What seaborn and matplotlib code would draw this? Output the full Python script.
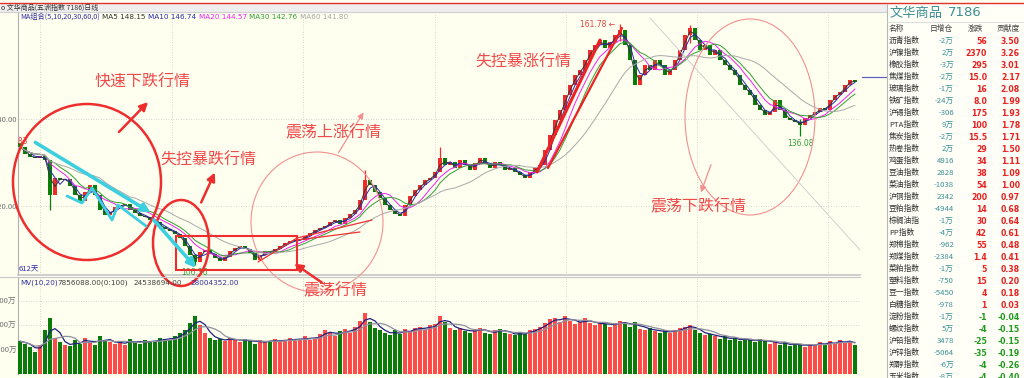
import numpy as np
import pandas as pd
import matplotlib
matplotlib.use("Agg")
import matplotlib.pyplot as plt
from matplotlib.patches import Ellipse, Rectangle
import seaborn as sns

W, H = 1024, 378

# ---- price data (one candle ~ 3.6 trading days, 612 days in view) ----
closes = [
    133.6, 132.0, 131.3, 131.0, 131.5, 130.6, 122.5, 126.4, 126.0, 126.2,
    124.6, 122.5, 121.1, 123.2, 124.8, 122.5, 119.1, 117.9, 118.6, 119.8,
    120.2, 120.5, 119.1, 118.4, 117.7, 117.5, 116.8, 116.3, 115.2, 114.7,
    114.3, 113.6, 112.6, 110.8, 108.7, 107.1, 109.4, 109.9, 109.0, 108.0,
    107.4, 108.3, 109.7, 110.3, 110.8, 110.1, 109.2, 107.6, 108.7, 109.7,
    109.4, 110.1, 110.8, 111.5, 112.0, 112.2, 112.2, 113.1, 113.8, 114.5,
    114.9, 115.4, 116.3, 116.8, 115.9, 117.2, 118.2, 119.1, 121.4, 126.0,
    124.8, 123.2, 121.8, 120.2, 119.1, 118.2, 117.7, 120.2, 122.3, 123.7,
    124.8, 126.0, 126.4, 127.8, 131.0, 129.4, 130.1, 128.7, 130.6, 129.4,
    128.3, 129.9, 131.0, 129.7, 128.7, 130.1, 129.4, 128.3, 128.7, 127.8,
    127.1, 126.4, 127.8, 128.7, 129.4, 132.9, 136.3, 139.8, 142.1, 145.5,
    147.8, 150.1, 151.3, 153.6, 155.9, 157.0, 158.2, 156.3, 157.7, 159.3,
    160.5, 157.0, 153.6, 147.8, 150.1, 152.4, 151.3, 153.6, 152.4, 150.1,
    151.3, 153.6, 155.9, 159.3, 160.9, 158.2, 155.9, 157.0, 154.7, 155.9,
    153.6, 152.4, 151.3, 150.1, 147.8, 146.7, 145.5, 143.2, 142.1, 140.9,
    141.6, 144.4, 142.1, 140.2, 139.8, 139.3, 138.6, 140.2, 140.9, 141.6,
    142.5, 142.1, 144.4, 145.5, 146.2, 147.8, 149.0, 148.5,
]
first_open = 134.5

# long shadows that stand out in the picture
spike_idx = [6, 35, 69, 84, 120, 134, 156]
spike_hi = [128.0, 109.0, 128.3, 133.6, 161.78, 161.6, 140.0]
spike_lo = [119.1, 106.36, 124.0, 129.0, 158.0, 157.5, 136.08]

# volume, unit 万
volumes = [
    1350, 1250, 1100, 900, 1200, 1800, 2300, 1500, 1300, 1200,
    1150, 1400, 1250, 1500, 1300, 1200, 1550, 1400, 1300, 1250,
    1350, 1200, 1450, 1300, 1250, 1400, 1350, 1300, 1500, 1450,
    1400, 1550, 1700, 1800, 2100, 2400, 2000, 1700, 1500, 1400,
    1450, 1350, 1500, 1400, 1300, 1450, 1350, 1250, 1400, 1300,
    1350, 1450, 1300, 1400, 1500, 1350, 1450, 1550, 1400, 1500,
    1650, 1800, 1700, 1550, 1750, 1850, 1700, 1950, 2200, 2500,
    2150, 1900, 1800, 1700, 1600, 1800, 1650, 1850, 1750, 1900,
    1950, 1800, 2000, 2050, 2400, 2150, 1900, 1800, 1900, 1750,
    1700, 1850, 1900, 1700, 1650, 1800, 1850, 1700, 1650, 1600,
    1700, 1650, 1800, 1850, 1950, 2100, 2250, 2300, 2150, 2400,
    2200, 2050, 2150, 2300, 2100, 2000, 2150, 2050, 1950, 2100,
    2200, 2050, 1950, 2150, 1850, 1800, 1900, 1750, 1700, 1800,
    1700, 1800, 1900, 1950, 2000, 1800, 1700, 1600, 1650, 1550,
    1450, 1550, 1400, 1500, 1350, 1450, 1400, 1300, 1450, 1350,
    1250, 1350, 1200, 1300, 1150, 1250, 1200, 1100, 1250, 1200,
    1300, 1200, 1350, 1250, 1400, 1300, 1350, 1200,
]

ma_names = ["MA5", "MA10", "MA20", "MA30", "MA60"]
ma_windows = [2, 3, 6, 8, 17]          # in candles
ma_values = ["148.15", "146.74", "144.57", "142.76", "141.80"]
ma_colors = ["#333333", "#2828B0", "#F020F0", "#30A030", "#A8A8A8"]

# right-hand quote table
tbl_names = ["沥青指数", "沪镍指数", "橡胶指数", "焦煤指数", "玻璃指数", "铁矿指数",
             "沪锡指数", "PTA指数", "焦炭指数", "热卷指数", "鸡蛋指数", "豆油指数",
             "菜油指数", "沪铜指数", "豆粕指数", "棕榈油指", "PP指数", "郑棉指数",
             "郑煤指数", "菜粕指数", "塑料指数", "豆一指数", "白糖指数", "淀粉指数",
             "螺纹指数", "沪铅指数", "沪锌指数", "郑醇指数", "玉米指数"]
tbl_oi = ["-2万", "2万", "-3万", "-2万", "-1万", "-24万", "-306", "9万", "-2万", "2万",
          "4916", "2828", "-1038", "2342", "-4944", "-1万", "-4万", "-962", "-2384",
          "-1万", "-750", "-5450", "-978", "-1万", "5万", "3478", "-5064", "-6万", "-8万"]
tbl_chg = ["56", "2370", "295", "15.0", "16", "8.0", "175", "100", "15.5", "29",
           "34", "38", "54", "200", "14", "30", "42", "55", "1.4", "5", "15", "4",
           "1", "-1", "-4", "-25", "-35", "-4", "-4"]
tbl_contrib = [3.50, 3.26, 3.01, 2.17, 2.08, 1.99, 1.93, 1.78, 1.71, 1.50, 1.11,
               1.09, 1.00, 0.97, 0.68, 0.64, 0.61, 0.48, 0.41, 0.38, 0.20, 0.18,
               0.03, -0.04, -0.15, -0.15, -0.19, -0.26, -0.40]

# ---- frame ----
df = pd.DataFrame({"close": closes, "vol": volumes})
df["open"] = df["close"].shift(1).fillna(first_open)
df["i"] = np.arange(len(df))
up = df["close"] >= df["open"]

sns.set_theme(style="white")
plt.rcParams["font.family"] = ["Noto Sans CJK SC", "DejaVu Sans"]
plt.rcParams["axes.unicode_minus"] = False

BG = "#FFFFF0"
RED = "#F22A2A"
GREEN = "#088008"
ANN = "#F04A4A"

fig = plt.figure(figsize=(W / 100, H / 100), dpi=100, facecolor=BG)


def fig_rect(x0, y0, x1, y1):
    return [x0 / W, 1 - y1 / H, (x1 - x0) / W, (y1 - y0) / H]


# price axes: pixel y = 119 at 140, 4.35 px per point
ax_p = fig.add_axes(fig_rect(18, 12, 860, 275), facecolor=BG)
ax_p.set_xlim((18 - 20) / 5, (860 - 20) / 5)
ax_p.set_ylim(140 - (275 - 119) / 4.35, 140 + (119 - 12) / 4.35)

ax_v = fig.add_axes(fig_rect(18, 278, 860, 374), facecolor=BG)
ax_v.set_xlim(ax_p.get_xlim())
ax_v.set_ylim(0, (374 - 278) / 24.3 * 1000)

grid_x = [4, 30.4, 56.6, 83, 109.2, 135.4, 161.6]
for ax in (ax_p, ax_v):
    for s in ("top", "right", "bottom"):
        ax.spines[s].set_visible(False)
    ax.spines["left"].set_color("#B0B0B0")
    ax.spines["left"].set_linewidth(0.8)
    ax.set_xticks(grid_x)
    ax.set_xticklabels([])
    ax.tick_params(axis="both", length=0, pad=1, labelsize=5.5, labelcolor="#707070")
    ax.grid(True, axis="both", color="#C8C8C8", linestyle=(0, (1, 2)), linewidth=0.6)
ax_p.spines["bottom"].set_visible(True)
ax_p.spines["bottom"].set_color("#C8C8C8")

ax_p.set_yticks([120, 140])
ax_p.set_yticklabels(["120.00", "140.00"])
ax_v.set_yticks([1000, 2000, 3000])
ax_v.set_yticklabels(["1000万", "2000万", "3000万"])

# candles
body_lo = df[["open", "close"]].min(axis=1)
body_h = (df["close"] - df["open"]).abs().clip(lower=0.25)
ax_p.bar(df["i"], body_h, bottom=body_lo, width=0.7,
         color=np.where(up, RED, GREEN), linewidth=0, zorder=3)
ax_p.vlines(spike_idx, spike_lo, spike_hi,
            colors=[RED if up[k] else GREEN for k in spike_idx], linewidth=0.9, zorder=3)

# moving averages
for name, w, c in zip(ma_names, ma_windows, ma_colors):
    ma = df["close"].rolling(w, min_periods=1).mean()
    sns.lineplot(x=df["i"], y=ma, ax=ax_p, color=c, linewidth=0.7, zorder=4, legend=False)
ax_p.set_xlabel("")
ax_p.set_ylabel("")

# volume bars + MV lines
ax_v.bar(df["i"], df["vol"], width=0.7,
         color=np.where(up, "#FF4A4A", "#0A7A0A"), linewidth=0, zorder=3)
sns.lineplot(x=df["i"], y=df["vol"].rolling(3, min_periods=1).mean(), ax=ax_v,
             color="#202080", linewidth=0.9, zorder=4)
sns.lineplot(x=df["i"], y=df["vol"].rolling(6, min_periods=1).mean(), ax=ax_v,
             color="#9090A0", linewidth=0.9, zorder=4)
ax_v.set_xlabel("")
ax_v.set_ylabel("")

# price tags
ax_p.text(1.6, closes[0] + 1.2, "134.83", color="#E04040", fontsize=5.5,
          ha="right", va="center", clip_on=True, family="DejaVu Sans")
ax_p.text(119, 161.78, "161.78 ←", color="#E04040", fontsize=5.5,
          ha="right", va="center", family="DejaVu Sans")
ax_p.text(35, 106.36 - 0.6, "106.36", color="#30A030", fontsize=5.5,
          ha="center", va="top", family="DejaVu Sans")
ax_p.text(156, 136.08 - 0.6, "136.08", color="#30A030", fontsize=5.5,
          ha="center", va="top", family="DejaVu Sans")

# ---- overlay in pixel coordinates ----
ov = fig.add_axes([0, 0, 1, 1], zorder=10)
ov.set_xlim(0, W)
ov.set_ylim(H, 0)
ov.axis("off")
ov.patch.set_alpha(0)

# window title strip
ov.add_patch(Rectangle((0, 3), W, 9, fc="#EEEEEE", ec="none"))
ov.plot([0, W], [3, 3], color="#E03030", lw=1.0)
ov.plot([0, 887], [12, 12], color="#D0D0D0", lw=0.8)
ov.text(1, 7.5, "o 文华商品(五洲指数 7186)日线", fontsize=5, color="#303030", va="center")

# MA legend
ov.text(20, 17, "MA组合(5,10,20,30,60,0)", fontsize=5.2, color="#3030A0", va="center")
leg_x = [102, 148, 199, 249, 300]
for x, n, v, c in zip(leg_x, ma_names, ma_values, ma_colors):
    ov.text(x, 17, f"{n} {v}", fontsize=5.2, color=c, va="center", family="DejaVu Sans")
ov.text(19, 270, "612天", fontsize=5.5, color="#3030B0", va="center")

# volume legend
ov.plot([0, 860], [276.5, 276.5], color="#C8C8C8", lw=0.8)
ov.text(20, 283, "MV(10,20)", fontsize=5.2, color="#3030A0", va="center", family="DejaVu Sans")
ov.text(57, 283, "7856088.00(0:100)", fontsize=5.2, color="#404040", va="center", family="DejaVu Sans")
ov.text(133, 283, "24538694.00", fontsize=5.2, color="#404040", va="center", family="DejaVu Sans")
ov.text(190, 283, "28004352.00", fontsize=5.2, color="#3030A0", va="center", family="DejaVu Sans")

# trend lines drawn by the analyst
ov.plot([650, 860], [18, 250], color="#D0D0D0", lw=0.7)
ov.plot([537, 600], [172, 40], color="#EE2222", lw=2.2)
ov.plot([548, 622], [168, 28], color="#EE2222", lw=1.6)
ov.plot([258, 297], [262, 238], color="#EE3030", lw=0.9)
ov.plot([297, 372], [238, 220], color="#EE3030", lw=0.9)
ov.plot([297, 360], [240, 232], color="#EE3030", lw=0.9)

# cyan arrows in the first selloff
cyan = "#3CCFE0"
ov.annotate("", xy=(153, 214), xytext=(33, 141),
            arrowprops=dict(arrowstyle="-|>", color=cyan, lw=2.6, mutation_scale=12))
ov.plot([67, 82, 92, 112, 118, 146], [196, 203, 188, 220, 205, 226], color=cyan, lw=2.0)
ov.annotate("", xy=(198, 270), xytext=(152, 218),
            arrowprops=dict(arrowstyle="-|>", color=cyan, lw=2.6, mutation_scale=12))

# circles / boxes / arrows
ov.add_patch(Ellipse((87, 182), 148, 156, fill=False, ec="#EE2E2E", lw=1.8))
ov.add_patch(Ellipse((181, 243), 56, 86, fill=False, ec="#EE2E2E", lw=1.8))
ov.add_patch(Ellipse((317, 222), 132, 140, fill=False, ec="#F29090", lw=0.8))
ov.add_patch(Ellipse((750, 117), 130, 196, fill=False, ec="#F29090", lw=0.8))
ov.add_patch(Rectangle((176, 236), 121, 34, fill=False, ec="#EE2E2E", lw=1.5))

red_arrow = dict(arrowstyle="-|>", color="#EE2E2E", lw=1.8, mutation_scale=12)
ov.annotate("", xy=(150, 100), xytext=(117, 134), arrowprops=red_arrow)
ov.annotate("", xy=(216, 170), xytext=(200, 205), arrowprops=red_arrow)
ov.annotate("", xy=(292, 262), xytext=(324, 284), arrowprops=red_arrow)
ov.annotate("", xy=(365, 110), xytext=(337, 155),
            arrowprops=dict(arrowstyle="-|>", color="#F29090", lw=0.9, mutation_scale=9))
ov.annotate("", xy=(700, 195), xytext=(712, 162),
            arrowprops=dict(arrowstyle="-|>", color="#F29090", lw=0.9, mutation_scale=9))

lab = dict(color=ANN, fontsize=11.5, va="center")
ov.text(95, 82, "快速下跌行情", **lab)
ov.text(160, 160, "失控暴跌行情", **lab)
ov.text(285, 133, "震荡上涨行情", **lab)
ov.text(303, 291, "震荡行情", **lab)
ov.text(475, 62, "失控暴涨行情", **lab)
ov.text(650, 207, "震荡下跌行情", **lab)

# current price marker
ov.plot([862, 887], [77, 77], color="#6060C0", lw=0.9)

# ---- quote table ----
ov.add_patch(Rectangle((887, 4), W - 887, H - 4, fc="#FFFFF8", ec="none"))
ov.plot([887, 887], [4, H], color="#B8B8B8", lw=0.8)
ov.plot([887, W], [22, 22], color="#D8D8D8", lw=0.6)
teal = "#3A8F94"
ov.text(890, 13, "文华商品", fontsize=9.5, color=teal, va="center")
ov.text(948, 13, "7186", fontsize=9.5, color=teal, va="center", family="DejaVu Sans")
hdr = dict(fontsize=5.6, color="#404040", va="center")
ov.text(889, 29, "名称", **hdr)
ov.text(953, 29, "日增仓", ha="right", **hdr)
ov.text(983, 29, "涨跌", ha="right", **hdr)
ov.text(1020, 29, "贡献度", ha="right", **hdr)
for k, (nm, oi, ch, cb) in enumerate(zip(tbl_names, tbl_oi, tbl_chg, tbl_contrib)):
    y = 41 + 12 * k
    col = "#E82020" if cb > 0 else "#1E9A1E"
    ov.text(889, y, nm, fontsize=5.6, color="#303030", va="center")
    ov.text(954, y, oi, fontsize=5.6, color=teal, va="center", ha="right")
    ov.text(987, y, ch, fontsize=5.6, color=col, va="center", ha="right",
            fontweight="bold", family="DejaVu Sans")
    ov.text(1020, y, f"{cb:.2f}", fontsize=5.6, color=col, va="center", ha="right",
            fontweight="bold", family="DejaVu Sans")

fig.savefig("out.png", dpi=100, facecolor=BG)
